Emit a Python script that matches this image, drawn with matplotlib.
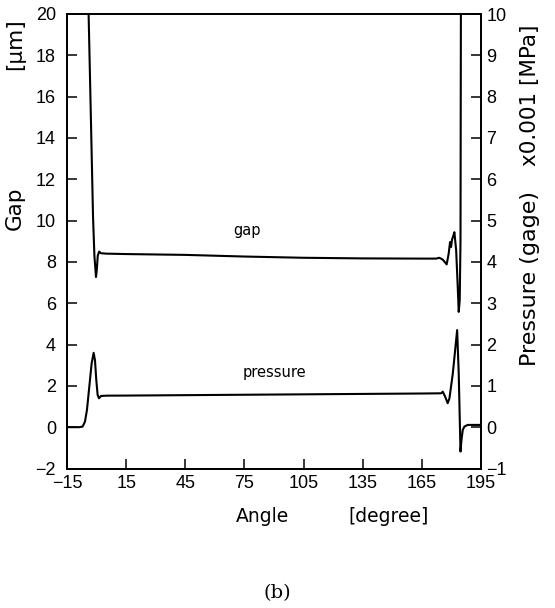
import matplotlib
matplotlib.use("Agg")
import matplotlib.pyplot as plt

# ---- data ----
gap_angle = [-4.3, -4.04, -2.8, -1.8, -1.1, -0.3, 0.1, 0.6, 1.3, 2.2, 5, 15, 45, 75, 105, 135,
             165, 172.2, 173.9, 175.6, 177.6, 178.6, 179.3, 179.8, 180.3, 181.0, 181.5,
             182.4, 183.2, 183.7, 184.2, 184.6, 184.8, 185.0]
gap_value = [25, 20, 14.6, 10.2, 8.3, 7.27, 7.6, 8.3, 8.5, 8.42, 8.40, 8.38, 8.34, 8.26, 8.2, 8.17,
             8.16, 8.16, 8.2, 8.11, 7.88, 8.4, 8.96, 8.72, 9.07, 9.28, 9.44,
             8.56, 6.79, 5.58, 6.14, 9.0, 20, 25]

pres_angle = [-15, -8.76, -7.07, -5.88, -4.87, -3.69, -2.51, -1.49, -0.81, -0.14, 0.54, 1.22,
              2.23, 5, 15, 45, 75, 105, 135, 165, 174.8, 175.6, 176.8, 178.1, 179.0, 180.7,
              182.9, 183.7, 184.6, 185.1, 185.75, 186.6, 188.3, 195]
pres_value = [0, 0, 0.015, 0.135, 0.42, 0.98, 1.54, 1.8, 1.62, 1.14, 0.78, 0.70,
              0.755, 0.763, 0.765, 0.775, 0.785, 0.795, 0.805, 0.815, 0.82, 0.86, 0.74, 0.58,
              0.70, 1.30, 2.35, 1.30, -0.59, -0.31, -0.065, 0.015, 0.055, 0.055]

x_ticks = [-15, 15, 45, 75, 105, 135, 165, 195]
gap_ticks = list(range(-2, 21, 2))
pres_ticks = list(range(-1, 11, 1))

TICKFONT = ['Liberation Sans', 'DejaVu Sans']

fig = plt.figure(figsize=(5.55, 6.08), dpi=100)
ax = fig.add_axes([67 / 555, 1 - 468.5 / 608, (481 - 67) / 555, (468.5 - 14) / 608])
ax2 = ax.twinx()

ax.plot(gap_angle, gap_value, color='black', lw=1.5, solid_joinstyle='round')
ax2.plot(pres_angle, pres_value, color='black', lw=1.5, solid_joinstyle='round')

ax.set_xlim(-15, 195)
ax.set_ylim(-2, 20)
ax2.set_ylim(-1, 10)

ax.set_xticks(x_ticks)
ax.set_yticks(gap_ticks)
ax2.set_yticks(pres_ticks)

ax.tick_params(axis='both', direction='in', length=7, width=1.1, top=False, right=False)
ax.tick_params(axis='y', pad=8)
ax.tick_params(axis='x', pad=5)
ax2.tick_params(axis='y', direction='in', length=7, width=1.1, pad=4, left=False)

for lab in ax.get_xticklabels() + ax.get_yticklabels() + ax2.get_yticklabels():
    lab.set_family(TICKFONT)
    lab.set_fontsize(13)

for a in (ax, ax2):
    for s in a.spines.values():
        s.set_linewidth(1.3)

# in-plot labels
fig.text(247 / 555, 1 - 231 / 608, 'gap', fontsize=10.5, ha='center', va='center')
fig.text(274 / 555, 1 - 373 / 608, 'pressure', fontsize=10.5, ha='center', va='center')

# axis labels
fig.text(15 / 555, 1 - 208 / 608, 'Gap', rotation=90, fontsize=15.5, ha='center', va='center')
fig.text(15 / 555, 1 - 44 / 608, '[μm]', rotation=90, fontsize=15.5, ha='center', va='center')
fig.text(530 / 555, 1 - 278 / 608, 'Pressure (gage)', rotation=90, fontsize=16, ha='center', va='center')
fig.text(530 / 555, 1 - 95 / 608, 'x0.001 [MPa]', rotation=90, fontsize=15.5, ha='center', va='center')
fig.text(262 / 555, 1 - 516 / 608, 'Angle', fontsize=13.5, ha='center', va='center')
fig.text(389 / 555, 1 - 516 / 608, '[degree]', fontsize=13.5, ha='center', va='center')
fig.text(277 / 555, 1 - 593 / 608, '(b)', fontsize=14, family='DejaVu Serif', ha='center', va='center')

fig.savefig('out.png', dpi=100)
